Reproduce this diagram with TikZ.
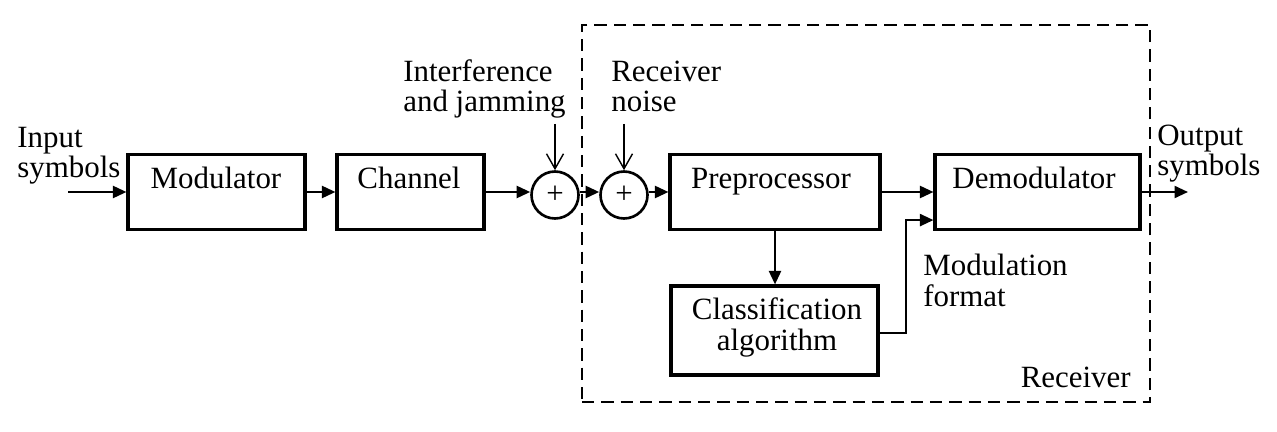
\documentclass[tikz,border=0pt]{standalone}
\usepackage{fontspec}
\setmainfont{Liberation Serif}
\usetikzlibrary{arrows.meta}
\begin{document}
\begin{tikzpicture}[x=0.02cm,y=-0.02cm,
  lbl/.style={font=\fontsize{17.6}{17.6}\selectfont, inner sep=0pt},
  blk/.style={draw, line width=1.8pt, rectangle, inner sep=0pt},
  sum/.style={draw, line width=1.5pt, circle, minimum size=0.94cm, inner sep=0pt},
  arr/.style={line width=1.3pt, -{Triangle[length=0.27cm,width=0.24cm]}},
  thinarr/.style={line width=0.8pt, -{Straight Barb[length=0.3cm,width=0.34cm]}}]
\useasboundingbox (0,0) rectangle (1277,432);
% receiver frame
\node[draw, dash pattern=on 7pt off 4pt, line width=1.4pt, minimum width=11.36cm, minimum height=7.54cm, inner sep=0pt] (recv) at (866,213.5) {};
% blocks
\node[blk, minimum width=3.54cm, minimum height=1.5cm] (mod) at (216.5,192) {};
\node[blk, minimum width=2.94cm, minimum height=1.5cm] (chan) at (410.5,192) {};
\node[blk, minimum width=4.2cm, minimum height=1.5cm] (pre) at (775,192) {};
\node[blk, minimum width=4.1cm, minimum height=1.5cm] (dem) at (1037.5,192) {};
\node[blk, minimum width=4.14cm, minimum height=1.78cm] (cls) at (774.5,330.5) {};
\node[sum] (s1) at (555,195) {};
\node[sum] (s2) at (624,195) {};
% texts
\node[lbl, anchor=base] (tmod) at (216,189) {Modulator};
\node[lbl, anchor=base] (tchan) at (409,189) {Channel};
\node[lbl, anchor=base] (tpre) at (771,189) {Preprocessor};
\node[lbl, anchor=base] (tdem) at (1034,189) {Demodulator};
\node[lbl, anchor=base, align=center] (tcls) at (777,350) {Classification\\algorithm};
\node[lbl] (p1) at (s1) {+};
\node[lbl] (p2) at (s2) {+};
\node[lbl, anchor=base west, align=left] (tin) at (17,178) {Input\\symbols};
\node[lbl, anchor=base west, align=left] (tout) at (1157,176) {Output\\symbols};
\node[lbl, anchor=base west, align=left] (tint) at (403,112) {Interference\\and jamming};
\node[lbl, anchor=base west, align=left] (tnoise) at (611,112) {Receiver\\noise};
\node[lbl, anchor=base west, align=left] (tfmt) at (923,306) {Modulation\\format};
\node[lbl, anchor=base east] (trecv) at (1131,387) {Receiver};
% connector ends
\coordinate (in) at (68,192);
\coordinate (out) at (1188,192);
\coordinate (intf) at (555,124);
\coordinate (noise) at (624,124);
\coordinate (bend) at (906,333);
% connectors
\draw[arr] (in) -- (mod.west);
\draw[arr] (mod.east) -- (chan.west);
\draw[arr] (chan.east) -- (chan.east -| s1.west);
\draw[arr] (s1.east |- chan.east) -- (s2.west |- chan.east);
\draw[arr] (s2.east |- chan.east) -- (pre.west);
\draw[arr] (pre.east) -- (dem.west);
\draw[arr] (dem.east) -- (out);
\draw[arr] (pre.south) -- (pre.south |- cls.north);
\draw[arr] (cls.east |- bend) -- (bend) |- ([yshift=0.22cm]dem.south west);
\draw[thinarr] (intf) -- (s1.north);
\draw[thinarr] (noise) -- (s2.north);
\end{tikzpicture}
\end{document}
